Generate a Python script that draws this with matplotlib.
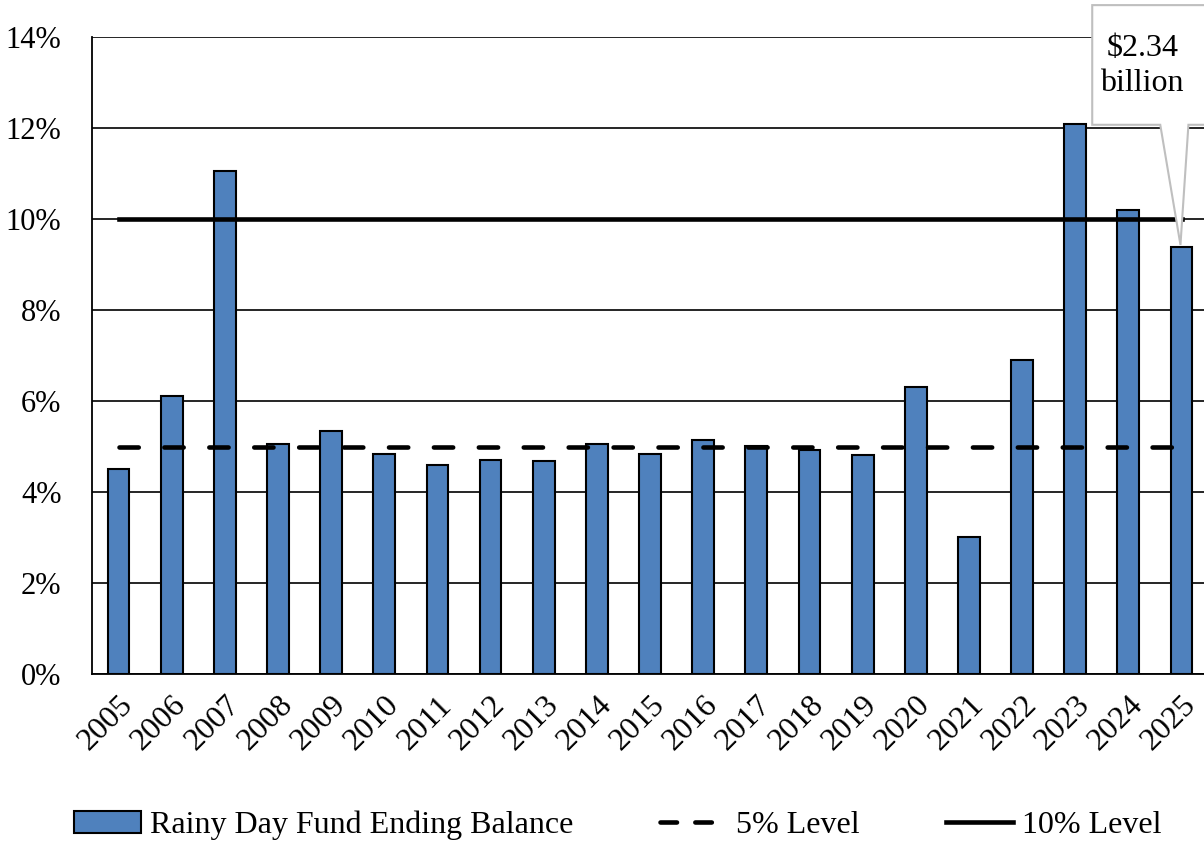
import numpy as np
import matplotlib
matplotlib.use("Agg")
import matplotlib.pyplot as plt
from matplotlib.patches import Polygon
from matplotlib.lines import Line2D
from matplotlib.patches import Patch

plt.rcParams['font.family'] = ['Liberation Serif', 'DejaVu Serif']

years = [str(y) for y in range(2005, 2026)]

balance = [4.51, 6.11, 11.05, 5.05, 5.34, 4.84, 4.59, 4.70, 4.68, 5.05,
           4.84, 5.14, 5.01, 4.92, 4.81, 6.31, 3.01, 6.90, 12.09, 10.20, 9.38]

level_5 = [5.0] * len(years)
level_10 = [10.0] * len(years)

yticks = [0, 2, 4, 6, 8, 10, 12, 14]

callout_text = "$2.34\nbillion"

bar_color = "#4f81bd"

fig = plt.figure(figsize=(12.04, 8.44), dpi=100)
ax = fig.add_axes([0.0764, 0.2014, 0.927, 0.7548])

x = np.arange(len(years))

ax.bar(x, balance, width=0.41, color=bar_color, edgecolor="black",
       linewidth=1.5, zorder=3)

dash_line, = ax.plot(x, level_5, color="black", linewidth=3.3,
                     dash_capstyle="round", zorder=4)
dash_line.set_dashes((4.2, 5.6))

ax.plot(x, level_10, color="black", linewidth=3.3, zorder=4)

ax.set_xlim(-0.5, len(years) - 0.5)
ax.set_ylim(0, 14)
ax.set_yticks(yticks)
ax.set_yticklabels([f"{t}%" for t in yticks], fontsize=22)
ax.set_xticks(x)
ax.set_xticklabels(years, fontsize=23, rotation=45, ha="right",
                   rotation_mode="anchor")

ax.yaxis.grid(True, color="black", linewidth=1.2, zorder=0)
ax.set_axisbelow(True)
ax.tick_params(axis="both", length=0)
ax.tick_params(axis="y", pad=22)
ax.tick_params(axis="x", pad=12)

for side in ["top", "right"]:
    ax.spines[side].set_visible(False)
ax.spines["left"].set_linewidth(1.3)
ax.spines["bottom"].set_linewidth(1.3)

# callout box pointing at the last bar
tip_x = x[-1] - 0.02
tip_y = balance[-1] + 0.05
box = [
    (tip_x - 1.66, 14.7),
    (tip_x + 0.9, 14.7),
    (tip_x + 0.9, 12.07),
    (tip_x + 0.15, 12.07),
    (tip_x, tip_y),
    (tip_x - 0.38, 12.07),
    (tip_x - 1.66, 12.07),
]
ax.add_patch(Polygon(box, closed=True, facecolor="white", edgecolor="#bfbfbf",
                     linewidth=1.5, clip_on=False, zorder=6))
ax.text(tip_x - 0.72, 13.36, callout_text, ha="center", va="center",
        fontsize=23, linespacing=1.3, zorder=7, clip_on=False)

handles = [
    Patch(facecolor=bar_color, edgecolor="black", linewidth=1.5),
    Line2D([0], [0], color="black", linewidth=3.3, dashes=(3.6, 4.0),
           dash_capstyle="round"),
    Line2D([0], [0], color="black", linewidth=3.3),
]
labels = ["Rainy Day Fund Ending Balance", "5% Level", "10% Level"]
fig.legend(handles, labels, loc="center", bbox_to_anchor=(0.513, 0.022),
           ncol=3, frameon=False, fontsize=23, handlelength=2.1,
           handletextpad=0.28, columnspacing=2.7)

fig.savefig("out.png", dpi=100)
